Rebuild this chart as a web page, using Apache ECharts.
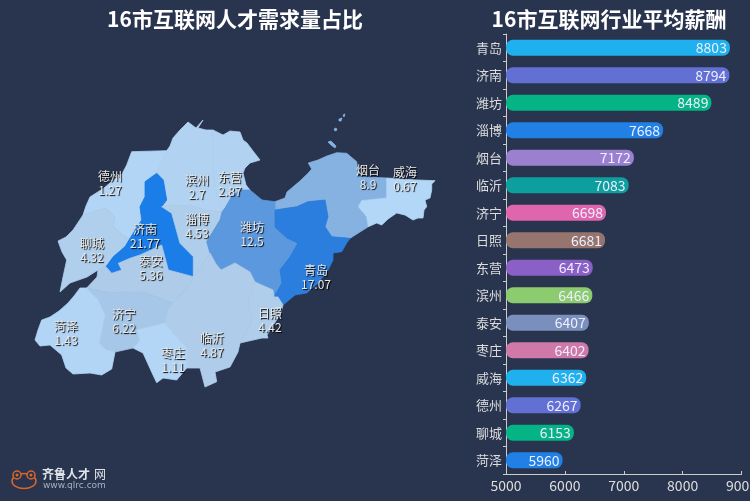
<!DOCTYPE html>
<html>
<head>
<meta charset="utf-8">
<style>
html,body{margin:0;padding:0;background:#29344f}
#main{width:750px;height:501px}
</style>
<script src="https://cdn.jsdelivr.net/npm/echarts@6/dist/echarts.min.js"></script>
</head>
<body>
<div id="main"></div>
<script>
// 左图 需求量占比
var mapCities = ['德州','滨州','东营','烟台','威海','聊城','济南','淄博','潍坊','泰安','青岛','济宁','日照','临沂','菏泽','枣庄'];
var mapShares = [1.27,2.7,2.87,8.9,0.67,4.32,21.77,4.53,12.5,5.36,17.07,6.22,4.42,4.87,1.43,1.11];
var shareColors = ['#b4d8f9','#aecce9','#6ea2de','#2d7edc','#1a7de8'];

// 右图 平均薪酬
var salaryCities = ['青岛','济南','潍坊','淄博','烟台','临沂','济宁','日照','东营','滨州','泰安','枣庄','威海','德州','聊城','菏泽'];
var salaryValues = [8803,8794,8489,7668,7172,7083,6698,6681,6473,6466,6407,6402,6362,6267,6153,5960];
var barColors = ['#1fb1ee','#626fd3','#05b485','#2080e6','#9b80d0','#0d9e9e','#df66ad','#96756f','#8a60c6','#8ccb6e','#7a8fbb','#cf79a8'];

// 地图轮廓 (没有外部geojson,手工描的)
var outlines = {
  '德州': [[[131.7,151.7],[166.7,150.7],[156.7,173.3],[145,181.7],[145,196.7],[140,206.7],[141.7,220],[130,238.3],[126.7,238],[113,226.7],[115,216.7],[105,208],[83,215],[86,206],[90,197],[104,188],[117,177],[122,174],[126.7,165]]],
  '滨州': [[[166.7,150.7],[170,146],[173,138],[180,130],[188,122],[196,128],[203,120],[198,128],[206,130],[213,130],[212,160],[215,188],[222,212],[205,210],[190,205],[175,205],[161.7,206.7],[166.7,200],[163.3,180],[156.7,173.3]]],
  '东营': [[[213,130],[223,135],[230,131],[240,132],[243,140],[247,143],[253,151],[260,160],[250,163],[245,168],[243,173],[246,185],[250,190],[240,190],[232,196],[225,208],[222,212],[215,188],[212,160]]],
  '烟台': [[[275,201.7],[285,198],[287,192],[291.7,188],[300,181],[308.3,173],[311.7,169],[308.3,163],[318,160],[327,156],[336.7,152.7],[346.7,153.3],[356.7,161.7],[358.3,176.7],[386.7,178],[386.7,198],[361.7,200.7],[358.3,206.7],[366.7,216.7],[368.3,226.7],[350,238.3],[331.7,236.7],[325,226.7],[328,216.7],[325,200],[308,201.7],[296.7,206.7],[275,210]],
          [[328,142],[331,141],[336,146],[335,148],[331,145]],[[335,128],[337,129],[336,131],[334,130]],[[339,119],[342,118],[341,121],[339,121]],[[343,115],[345,114],[344,117]]],
  '威海': [[[386.7,178],[416.7,180],[435,180.7],[431.7,184],[431.7,190],[430,198],[425,200],[426.7,206.7],[424,210],[423,218],[418,218],[413,220],[405,215],[396.7,213],[388,219],[381.7,225],[376.7,223],[368.3,226.7],[366.7,216.7],[358.3,206.7],[361.7,200.7],[386.7,198]]],
  '聊城': [[[83,215],[105,208],[115,216.7],[113,226.7],[126.7,238],[130,238.3],[125,246.7],[113.3,256.7],[106,266.7],[98,270],[87,277],[70,283],[60,292],[63,277],[66.7,260],[62,252],[58,241],[66,237],[73,230]]],
  '济南': [[[156.7,173.3],[163.3,180],[166.7,200],[161.7,206.7],[171.7,213.3],[180,243.3],[193.3,256.7],[193.3,276.7],[168.3,270],[161.7,245],[140,255],[130,258.3],[118.3,263.3],[121.7,270],[111.7,273.3],[106,266.7],[113.3,256.7],[125,246.7],[130,238.3],[141.7,220],[140,206.7],[145,196.7],[145,181.7]]],
  '淄博': [[[161.7,206.7],[175,205],[190,205],[205,210],[222,212],[220,220],[206.7,241.7],[210,253],[200,268],[193.3,276.7],[193.3,256.7],[180,243.3],[171.7,213.3]]],
  '潍坊': [[[250,190],[262,200],[275,201.7],[275,210],[275,227],[287,238],[298,243],[290,257],[280,270],[282,283],[278,290],[274,297],[273,290],[255,282],[250,272],[235,263],[221,270],[216,264],[210,253],[206.7,241.7],[220,220],[222,212],[225,208],[232,196],[240,190]]],
  '泰安': [[[98,270],[106,266.7],[111.7,273.3],[121.7,270],[118.3,263.3],[130,258.3],[140,255],[161.7,245],[168.3,270],[193.3,276.7],[190,285],[173,303],[143,292],[123,292],[110,293],[86.7,288],[97,277]]],
  '青岛': [[[275,210],[296.7,206.7],[308,201.7],[325,200],[328,216.7],[325,226.7],[331.7,236.7],[350,238.3],[346.7,243],[341.7,251.7],[333,253],[333,260],[328,270],[318,283],[306.7,293],[295,295],[283,305],[278,297],[274,297],[278,290],[282,283],[280,270],[290,257],[298,243],[287,238],[275,227]]],
  '济宁': [[[86.7,288],[110,293],[123,292],[143,292],[173,303],[168,310],[165,323],[136.7,330],[140,340],[133,348],[115,352],[106.7,350],[99,343],[105,315],[98,300]]],
  '日照': [[[255,282],[273,290],[274,297],[278,297],[283,305],[281,313],[267,335],[268,338],[262,338],[240,343],[252,322],[248,300]]],
  '临沂': [[[193.3,276.7],[200,268],[210,253],[216,264],[221,270],[235,263],[250,272],[255,282],[248,300],[252,322],[240,343],[238,352],[230,367],[215,372],[216.7,381.7],[205,387],[200,368],[186.7,368],[186.7,348],[176.7,336.7],[165,323],[168,310],[173,303],[190,285]]],
  '菏泽': [[[86.7,288],[80,288],[74,296],[68,303],[59,311],[50,317],[41.7,320],[38,330],[35,340],[40,346],[50,345],[61.7,355],[66,368],[73,374],[90,373],[101.7,375],[111.7,369],[115,352],[106.7,350],[99,343],[105,315],[98,300]]],
  '枣庄': [[[136.7,330],[165,323],[176.7,336.7],[186.7,348],[186.7,368],[176.7,380],[163,378],[156.7,382.7],[153,375],[143,353],[133,348],[140,340]]]
};
var labelPoints = {
  '德州':[110,183],'滨州':[197,187],'东营':[230,184],'烟台':[368,177],'威海':[405,179],'聊城':[92,250],'济南':[145,236],'淄博':[197,226],
  '潍坊':[252,234],'泰安':[151,268],'青岛':[316,277],'济宁':[124,321],'日照':[270,320],'临沂':[212,345],'菏泽':[66,333],'枣庄':[173,360]
};

function flip(p){ return [p[0], -p[1]]; }
var geoJson = {
  type: 'FeatureCollection',
  features: mapCities.map(function(name){
    return {
      type: 'Feature',
      properties: {name: name, cp: flip(labelPoints[name])},
      geometry: {
        type: 'MultiPolygon',
        coordinates: outlines[name].map(function(ring){ return [ring.map(flip)]; })
      }
    };
  })
};
echarts.registerMap('shandong', geoJson);

var myChart = echarts.init(document.getElementById('main'));
var cjk = '"Noto Sans CJK SC"';

myChart.setOption({
  animation: false,
  backgroundColor: '#29344f',
  title: [
    {text: '16市互联网人才需求量占比', left: 230, top: 4, textAlign: 'center',
     textStyle: {color: '#fff', fontSize: 21, fontWeight: 'bold', fontFamily: cjk}},
    {text: '16市互联网行业平均薪酬', left: 604, top: 4, textAlign: 'center',
     textStyle: {color: '#fff', fontSize: 21, fontWeight: 'bold', fontFamily: cjk}}
  ],
  visualMap: {show: false, type: 'continuous', min: 0, max: 22, seriesIndex: 0, inRange: {color: shareColors}},
  grid: {left: 506, top: 34, width: 235.5, height: 440, outerBoundsMode: 'none'},
  xAxis: {
    type: 'value', min: 5000, max: 9000, interval: 1000,
    splitLine: {show: false},
    axisLine: {show: true, lineStyle: {color: '#ccc'}},
    axisTick: {show: true, inside: true, length: 3, lineStyle: {color: '#ccc'}},
    axisLabel: {color: '#ddd', fontSize: 14, fontFamily: cjk, margin: 5, hideOverlap: false, showMaxLabel: true,
      formatter: function(v){ return String(v); }}
  },
  yAxis: {
    type: 'category', inverse: true, data: salaryCities,
    axisLine: {show: true, lineStyle: {color: '#ccc'}},
    axisTick: {show: true, length: 3, lineStyle: {color: '#ccc'}},
    axisLabel: {color: '#ddd', fontSize: 13, fontFamily: cjk, margin: 4}
  },
  series: [
    {
      type: 'map', map: 'shandong', roam: false, silent: true, aspectScale: 1,
      boundingCoords: [[0,0],[750,-501]],
      left: 0, top: 0, width: 750, height: 501,
      label: {
        show: true, color: '#e8e8e8', fontSize: 12, fontFamily: cjk, lineHeight: 14,
        textShadowColor: '#000', textShadowBlur: 1, textShadowOffsetX: 1, textShadowOffsetY: 1,
        formatter: function(p){ return p.name + '\n' + p.value; }
      },
      // 描边用本身颜色,盖住相邻区域之间的缝
      data: mapCities.map(function(c,i){
        var fill = echarts.color.lerp(mapShares[i] / 22, shareColors);
        return {name: c, value: mapShares[i], itemStyle: {borderColor: fill, borderWidth: 0.8}};
      })
    },
    {
      type: 'bar', barWidth: 16, silent: true,
      data: salaryValues,
      itemStyle: {
        borderRadius: 7,
        color: function(p){ return barColors[p.dataIndex % barColors.length]; }
      },
      label: {show: true, position: 'insideRight', color: '#eef', fontSize: 14, fontFamily: cjk, distance: 3}
    }
  ],
  graphic: [
    // logo
    {type: 'ellipse', shape: {cx: 24, cy: 481, rx: 12, ry: 7.5}, style: {fill: 'none', stroke: '#d9662a', lineWidth: 1.5}, silent: true},
    {type: 'circle', shape: {cx: 17, cy: 475, r: 4}, style: {fill: '#29344f', stroke: '#d9662a', lineWidth: 1.5}, silent: true},
    {type: 'circle', shape: {cx: 31, cy: 475, r: 4}, style: {fill: '#29344f', stroke: '#d9662a', lineWidth: 1.5}, silent: true},
    {type: 'circle', shape: {cx: 17, cy: 475, r: 1.5}, style: {fill: '#d9662a'}, silent: true},
    {type: 'circle', shape: {cx: 31, cy: 475, r: 1.5}, style: {fill: '#d9662a'}, silent: true},
    {type: 'text', x: 42, y: 468, style: {text: '齐鲁人才', fill: '#dfe3ea', font: 'bold 12px "Noto Sans CJK SC"'}, silent: true},
    {type: 'text', x: 94, y: 468, style: {text: '网', fill: '#dfe3ea', font: '12px "Noto Sans CJK SC"'}, silent: true},
    {type: 'text', x: 43, y: 481, style: {text: 'www.qlrc.com', fill: '#a8afbc', font: '9px "DejaVu Sans"'}, silent: true}
  ]
});
</script>
</body>
</html>
